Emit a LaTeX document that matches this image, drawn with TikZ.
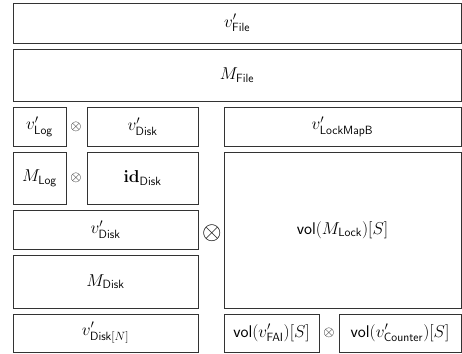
\documentclass[tikz,border=0pt]{standalone}
\usepackage{amsmath}
\begin{document}
\begin{tikzpicture}[x=1bp,y=-1bp,
  box/.style={draw=black!80, line width=0.9bp, inner sep=0pt, outer sep=0pt,
    font=\fontsize{17}{20}\selectfont},
  op/.style={inner sep=0pt, font=\fontsize{14}{17}\selectfont}]
\useasboundingbox (0,0) rectangle (462,353);
\newcommand{\sub}[1]{\mathsf{#1}}
% top rows
\node[box, minimum width=448bp, minimum height=40bp] (vfile) at (237,23) {$v'_{\sub{File}}$};
\node[box, minimum width=448bp, minimum height=52bp] (mfile) at (237,75) {$M_{\sub{File}}$};
% left column
\node[box, minimum width=53bp, minimum height=39bp] (vlog) at (39.5,126.5) {$v'_{\sub{Log}}$};
\node[op] (t1) at (76,126.5) {$\otimes$};
\node[box, minimum width=111bp, minimum height=39bp] (vdiska) at (142.5,126.5) {$v'_{\sub{Disk}}$};
\node[box, minimum width=53bp, minimum height=52bp] (mlog) at (39.5,178) {$M_{\sub{Log}}$};
\node[op] (t2) at (76,178) {$\otimes$};
\node[box, minimum width=111bp, minimum height=52bp] (iddisk) at (142.5,178) {$\mathbf{id}_{\sub{Disk}}$};
\node[box, minimum width=185bp, minimum height=39bp] (vdiskb) at (105.5,229.5) {$v'_{\sub{Disk}}$};
\node[box, minimum width=185bp, minimum height=53bp] (mdisk) at (105.5,281.5) {$M_{\sub{Disk}}$};
\node[box, minimum width=185bp, minimum height=38bp] (vdiskn) at (105.5,333) {$v'_{\sub{Disk}[N]}$};
% separator between columns
\node[op, scale=1.75] (tbig) at (212,233) {$\otimes$};
% right column
\node[box, minimum width=237bp, minimum height=39bp] (vlmb) at (342.5,126.5) {$v'_{\sub{LockMapB}}$};
\node[box, minimum width=237bp, minimum height=156bp] (mlock) at (342.5,230) {$\textsf{vol}(M_{\sub{Lock}})[S]$};
\node[box, minimum width=95bp, minimum height=38bp] (vfai) at (271.5,333) {$\textsf{vol}(v'_{\sub{FAI}})[S]$};
\node[op] (t3) at (329,333) {$\otimes$};
\node[box, minimum width=122bp, minimum height=38bp] (vcnt) at (400,333) {$\textsf{vol}(v'_{\sub{Counter}})[S]$};
\end{tikzpicture}
\end{document}
